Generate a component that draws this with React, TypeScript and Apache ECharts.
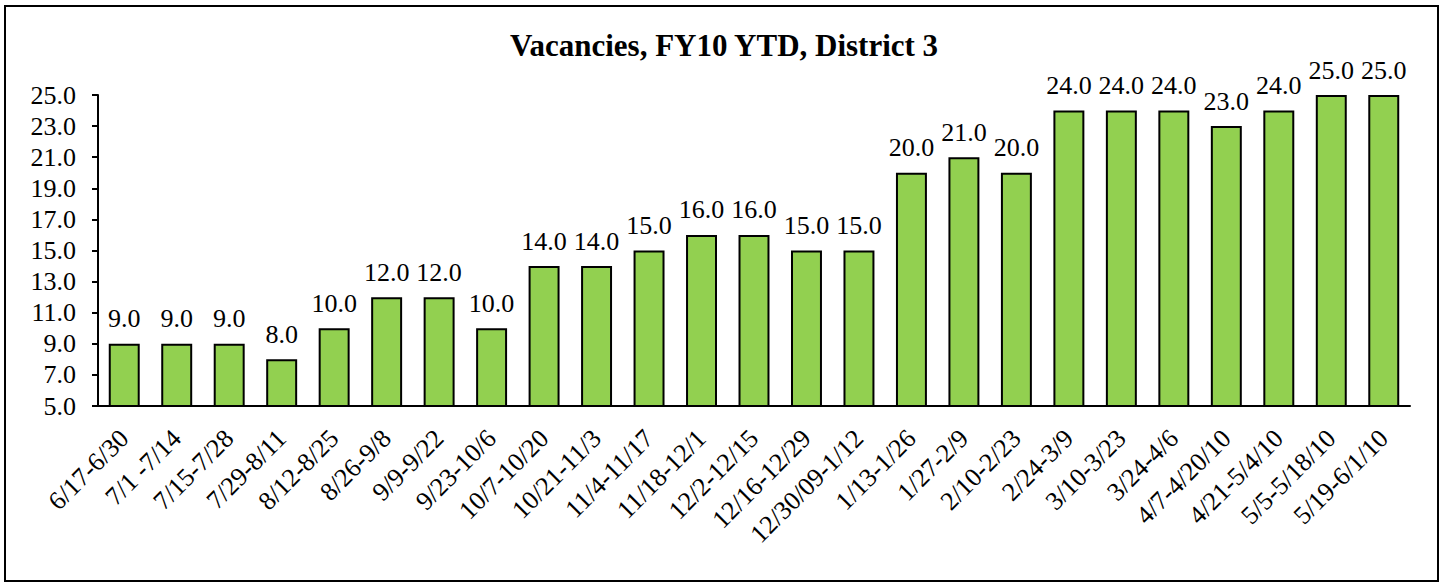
import React, { useEffect, useRef } from "react";
import * as echarts from "echarts";

const TITLE = "Vacancies, FY10 YTD, District 3";
const categories = [
  "6/17-6/30", "7/1 -7/14", "7/15-7/28", "7/29-8/11", "8/12-8/25", "8/26-9/8",
  "9/9-9/22", "9/23-10/6", "10/7-10/20", "10/21-11/3", "11/4-11/17", "11/18-12/1",
  "12/2-12/15", "12/16-12/29", "12/30/09-1/12", "1/13-1/26", "1/27-2/9", "2/10-2/23",
  "2/24-3/9", "3/10-3/23", "3/24-4/6", "4/7-4/20/10", "4/21-5/4/10", "5/5-5/18/10",
  "5/19-6/1/10",
];
const vacancies = [9, 9, 9, 8, 10, 12, 12, 10, 14, 14, 15, 16, 16, 15, 15, 20, 21, 20, 24, 24, 24, 23, 24, 25, 25];
const yMin = 5;
const yMax = 25;
const yInterval = 2;

const FONT = "Liberation Serif, Times New Roman, serif";

export default function App() {
  const ref = useRef<HTMLDivElement>(null);
  useEffect(() => {
    if (!ref.current) return;
    const chart = echarts.init(ref.current, null, { renderer: "svg" });
    chart.setOption({
      animation: false,
      backgroundColor: "#ffffff",
      title: {
        text: TITLE,
        left: 719,
        top: 25,
        textAlign: "center",
        textStyle: { fontFamily: FONT, fontSize: 31, fontWeight: "bold", color: "#000" },
      },
      graphic: [
        {
          type: "rect",
          shape: { x: 5, y: 6, width: 1433, height: 575 },
          style: { fill: "none", stroke: "#000", lineWidth: 2 },
          z: 100,
        },
      ],
      grid: { left: 98, right: 33, top: 95, bottom: 176, containLabel: false },
      xAxis: {
        type: "category",
        data: categories,
        axisLine: { lineStyle: { color: "#000", width: 2 } },
        axisTick: { show: false },
        axisLabel: {
          rotate: 45,
          interval: 0,
          fontFamily: FONT,
          fontSize: 26,
          color: "#000",
          margin: 28,
        },
      },
      yAxis: {
        type: "value",
        min: yMin,
        max: yMax,
        interval: yInterval,
        axisLine: { show: true, lineStyle: { color: "#000", width: 2 } },
        axisTick: { show: true, length: 6, lineStyle: { color: "#000", width: 2 } },
        splitLine: { show: false },
        axisLabel: {
          fontFamily: FONT,
          fontSize: 26,
          color: "#000",
          margin: 22,
          formatter: (v: number) => v.toFixed(1),
        },
      },
      series: [
        {
          type: "bar",
          data: vacancies,
          barWidth: "59%",
          itemStyle: { color: "#92D050", borderColor: "#000", borderWidth: 2 },
          label: {
            show: true,
            position: "top",
            distance: 12,
            fontFamily: FONT,
            fontSize: 26,
            color: "#000",
            formatter: (p: any) => Number(p.value).toFixed(1),
          },
        },
      ],
    });
    return () => chart.dispose();
  }, []);
  return (
    <div
      ref={ref}
      style={{ position: "fixed", left: 0, top: 0, width: 1443, height: 582 }}
    />
  );
}
